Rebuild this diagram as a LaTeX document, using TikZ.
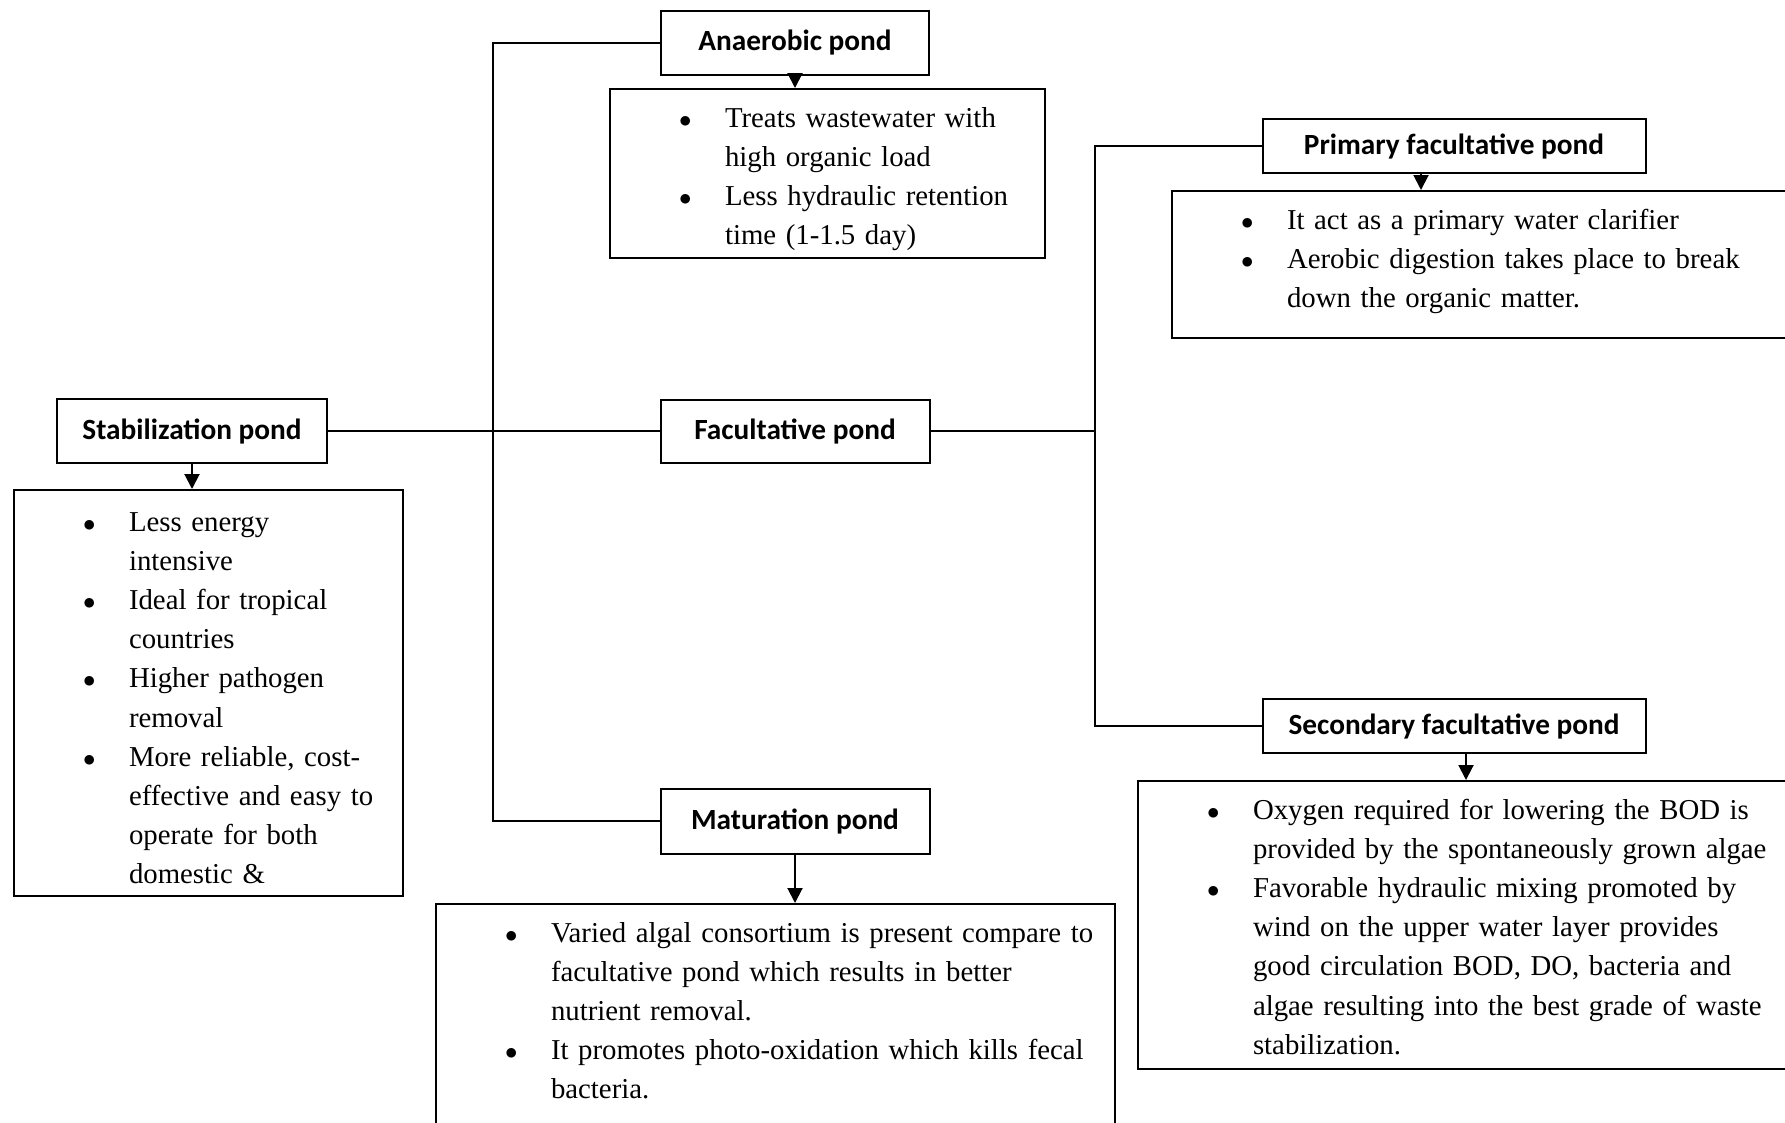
\documentclass[tikz,border=0pt]{standalone}
\usepackage{fontspec}
\setmainfont{Liberation Serif}
\newfontfamily\headfont{Carlito}
\usetikzlibrary{arrows.meta}

% one bullet point, later lines hang under the text
\newcommand{\pitem}[1]{\noindent\hangindent=46pt\hangafter=1
  \makebox[46pt][l]{$\bullet$}#1\par}

\begin{document}
\begin{tikzpicture}[x=1pt, y=-1pt, line width=2pt,
  pond node/.style={rectangle, draw, inner sep=0pt,
    font=\headfont\bfseries\fontsize{29.3}{35}\selectfont},
  note box/.style={rectangle, draw, anchor=north west, inner sep=0pt},
  note text/.style={anchor=base west, inner sep=0pt, text width=700pt, align=left,
    font=\fontsize{28.8}{39.2}\selectfont},
  arr/.style={-{Triangle[width=15pt,length=15pt]}}]
\path[fill=white, use as bounding box] (0,0) rectangle (1785,1122);

\node[pond node, minimum width=270pt, minimum height=64pt] (stab) at (192,431) {Stabilization pond};
\node[pond node, minimum width=268pt, minimum height=64pt] (anaer) at (795,43) {Anaerobic pond};
\node[pond node, minimum width=269pt, minimum height=63pt] (facul) at (795,431) {Facultative pond};
\node[pond node, minimum width=269pt, minimum height=65pt] (matur) at (795,821) {Maturation pond};
\node[pond node, minimum width=383pt, minimum height=54pt] (prim) at (1454,146) {Primary facultative pond};
\node[pond node, minimum width=383pt, minimum height=54pt] (second) at (1454,726) {Secondary facultative pond};

\node[note box, minimum width=389pt, minimum height=406pt] (stabnote) at (13,489) {};
\node[note box, minimum width=435pt, minimum height=169pt] (anaernote) at (609,88) {};
\node[note box, minimum width=679pt, minimum height=240pt] (maturnote) at (435,903) {};
\node[note box, minimum width=640pt, minimum height=147pt] (primnote) at (1171,190) {};
\node[note box, minimum width=670pt, minimum height=288pt] (secondnote) at (1137,780) {};

\node[note text] (stabtext) at ([xshift=69pt,yshift=-42pt]stabnote.north west) {%
  \pitem{Less energy\newline intensive}
  \pitem{Ideal for tropical\newline countries}
  \pitem{Higher pathogen\newline removal}
  \pitem{More reliable, cost-\newline effective and easy to\newline operate for both\newline domestic \&}};
\begin{scope}
\clip (anaernote.north west) rectangle (anaernote.south east);
\node[note text] (anaertext) at ([xshift=69pt,yshift=-39pt]anaernote.north west) {%
  \pitem{Treats wastewater with\newline high organic load}
  \pitem{Less hydraulic retention\newline time (1-1.5 day)}};
\end{scope}
\node[note text] (primtext) at ([xshift=69pt,yshift=-39pt]primnote.north west) {%
  \pitem{It act as a primary water clarifier}
  \pitem{Aerobic digestion takes place to break\newline down the organic matter.}};
\node[note text] (secondtext) at ([xshift=69pt,yshift=-39pt]secondnote.north west) {%
  \pitem{Oxygen required for lowering the BOD is\newline provided by the spontaneously grown algae}
  \pitem{Favorable hydraulic mixing promoted by\newline wind on the upper water layer provides\newline good circulation BOD, DO, bacteria and\newline algae resulting into the best grade of waste\newline stabilization.}};
\node[note text] (maturtext) at ([xshift=69pt,yshift=-39pt]maturnote.north west) {%
  \pitem{Varied algal consortium is present compare to\newline facultative pond which results in better\newline nutrient removal.}
  \pitem{It promotes photo-oxidation which kills fecal\newline bacteria.}};

\coordinate (lbus) at (493,0);
\coordinate (rbus) at (1095,0);
\draw (stab.east) -- (facul.west);
\draw (anaer.west) -- (anaer.west -| lbus) |- (matur.west);
\draw (facul.east) -- (facul.east -| rbus);
\draw (prim.west) -- (prim.west -| rbus) |- (second.west);
\draw[arr] (stab.south) -- (stab.south |- stabnote.north);
\draw[arr] (anaer.south) -- (anaer.south |- anaernote.north);
\draw[arr] (matur.south) -- (matur.south |- maturnote.north);
\draw[arr] ([xshift=-33pt]prim.south) -- ([xshift=-33pt]prim.south |- primnote.north);
\draw[arr] ([xshift=12pt]second.south) -- ([xshift=12pt]second.south |- secondnote.north);
\end{tikzpicture}
\end{document}
